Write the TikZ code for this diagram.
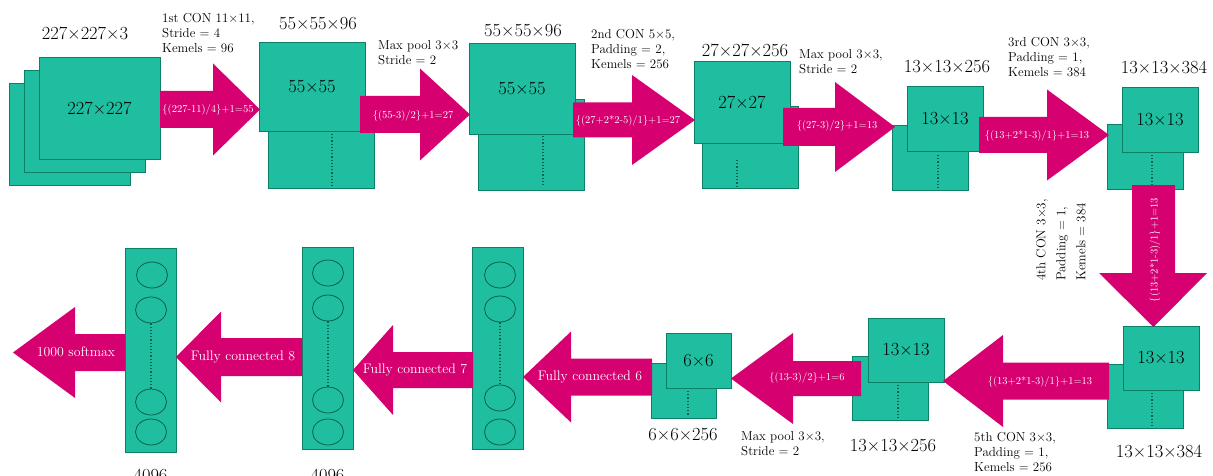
\documentclass[tikz,border=0pt]{standalone}
\usetikzlibrary{shapes.geometric}
\definecolor{tealc}{RGB}{32,190,160}
\definecolor{tealb}{RGB}{12,128,100}
\definecolor{teald}{RGB}{10,95,75}
\definecolor{mag}{RGB}{214,0,112}
\newcommand\harrowshape[6]{% x0, xhead, xtip, centre y, body half, head half
  \fill[mag] (#1,#4-#5) -- (#2,#4-#5) -- (#2,#4-#6) -- (#3,#4) -- (#2,#4+#6) -- (#2,#4+#5) -- (#1,#4+#5) -- cycle;}
\begin{document}
\begin{tikzpicture}[x=1pt,y=-1pt,
  fm/.style={draw=tealb, fill=tealc, line width=0.8pt, inner sep=0pt, font=\fontsize{18.5}{22}\selectfont},
  dimlab/.style={font=\fontsize{18.5}{22}\selectfont, inner sep=0pt},
  note/.style={font=\fontsize{13}{15}\selectfont, align=left, inner sep=0pt, anchor=north west},
  atext/.style={text=white, font=\fontsize{10.5}{12}\selectfont, inner sep=0pt},
  fctext/.style={text=white, font=\fontsize{13.8}{15}\selectfont, inner sep=0pt},
  dotl/.style={draw=teald, dotted, line width=1.2pt},
  neuron/.style={draw=teald, line width=0.8pt, ellipse, minimum width=31pt, minimum height=26pt, inner sep=0pt}
]
\fill[white] (0,0) rectangle (1213,476);
\clip (0,0) rectangle (1213,476);
\useasboundingbox (0,0) rectangle (1213,476);

% ---- feature maps, top row ----
\node[fm, minimum width=121pt, minimum height=102pt] (A3) at (69.5,134) {};
\node[fm, minimum width=121pt, minimum height=102pt] (A2) at (85,121) {};
\node[fm, minimum width=121pt, minimum height=102pt] (A1) at (99.5,108) {227×227};

\node[fm, minimum width=106pt, minimum height=89pt] (B2) at (321,143.5) {};
\node[fm, minimum width=106pt, minimum height=89pt] (B1) at (312,87) {55×55};

\node[fm, minimum width=106pt, minimum height=91pt] (C2) at (531,144.5) {};
\node[fm, minimum width=106pt, minimum height=91pt] (C1) at (522,88.5) {55×55};

\node[fm, minimum width=96pt, minimum height=82pt] (D2) at (750.5,147) {};
\node[fm, minimum width=96pt, minimum height=82pt] (D1) at (742,102.5) {27×27};

\node[fm, minimum width=76pt, minimum height=65pt] (E2) at (930,157.5) {};
\node[fm, minimum width=76pt, minimum height=65pt] (E1) at (945,118.5) {13×13};

\node[fm, minimum width=76pt, minimum height=65pt] (F2) at (1145,156.5) {};
\node[fm, minimum width=76pt, minimum height=65pt] (F1) at (1160,119.5) {13×13};

% ---- feature maps, bottom row ----
\node[fm, minimum width=76pt, minimum height=64pt] (G2) at (1145,396.5) {};
\node[fm, minimum width=76pt, minimum height=64pt] (G1) at (1161,358) {13×13};

\node[fm, minimum width=76pt, minimum height=64pt] (H2) at (890,388) {};
\node[fm, minimum width=76pt, minimum height=64pt] (H1) at (906,350) {13×13};

\node[fm, minimum width=65pt, minimum height=55pt] (I2) at (683.5,390.5) {};
\node[fm, minimum width=65pt, minimum height=55pt] (I1) at (698.5,360.5) {6×6};

% ---- fully connected columns ----
\node[fm, minimum width=51pt, minimum height=204pt] (K1) at (150.5,350) {};
\node[fm, minimum width=51pt, minimum height=202pt] (K2) at (327.5,348) {};
\node[fm, minimum width=51pt, minimum height=202pt] (K3) at (497.5,348) {};

\node[neuron] (K1a) at (152,275) {};
\node[neuron] (K1b) at (151,310) {};
\node[neuron] (K1c) at (151,402) {};
\node[neuron] (K1d) at (151,432) {};
\node[neuron] (K2a) at (328,273) {};
\node[neuron] (K2b) at (328,308) {};
\node[neuron] (K2c) at (328,400) {};
\node[neuron] (K2d) at (328,432) {};
\node[neuron] (K3a) at (500,275) {};
\node[neuron] (K3b) at (500,309) {};
\node[neuron] (K3c) at (500,398) {};
\node[neuron] (K3d) at (500,432) {};

% ---- dotted lines ----
\draw[dotl] (332,134) -- (332,186);
\draw[dotl] (543,136) -- (543,187);
\draw[dotl] (737,160) -- (737,187);
\draw[dotl] (938,155) -- (938,188);
\draw[dotl] (1152,155) -- (1152,186);
\draw[dotl] (1152,393) -- (1152,426);
\draw[dotl] (898,385) -- (898,418);
\draw[dotl] (688,391) -- (688,416);
\draw[dotl] (K1b.south) -- (K1c.north);
\draw[dotl] (K2b.south) -- (K2c.north);
\draw[dotl] (K3b.south) -- (K3c.north);

% ---- block arrows ----
\harrowshape{160}{213}{260}{109.5}{18.5}{46}
\harrowshape{360}{420}{470}{114.5}{18.5}{46}
\harrowshape{573}{632}{695}{120}{17.5}{45}
\harrowshape{783}{835}{895}{127}{19}{45}
\harrowshape{979}{1047}{1109}{135}{18}{45.5}
\fill[mag] (1132,185) -- (1132,273) -- (1099,273) -- (1153.5,327) -- (1207,273) -- (1175,273) -- (1175,185) -- cycle;
\harrowshape{1109}{1003}{943}{381}{18.5}{46}
\harrowshape{861}{793}{731}{378.5}{17.5}{45.5}
\harrowshape{652}{571}{523}{377}{18.5}{45.5}
\harrowshape{473}{393}{353}{370}{18}{45}
\harrowshape{302}{221}{176}{357}{19}{45.5}
\harrowshape{125}{75}{13}{352.5}{18.5}{45.5}

% ---- arrow texts ----
\node[atext] (t1) at (208,110) {\{(227-11)/4\}+1=55};
\node[atext] (t2) at (413,116) {\{(55-3)/2\}+1=27};
\node[atext] (t3) at (628,121) {\{(27+2*2-5)/1\}+1=27};
\node[atext] (t4) at (837,126) {\{(27-3)/2\}+1=13};
\node[atext] (t5) at (1037,136) {\{(13+2*1-3)/1\}+1=13};
\node[atext, rotate=90] (t6) at (1155,250) {\{(13+2*1-3)/1\}+1=13};
\node[atext] (t7) at (1040,382) {\{(13+2*1-3)/1\}+1=13};
\node[atext] (t8) at (807,378) {\{(13-3)/2\}+1=6};
\node[fctext] (t9) at (590,377) {Fully connected 6};
\node[fctext] (t10) at (415,370) {Fully connected 7};
\node[fctext] (t11) at (243,357) {Fully connected 8};
\node[fctext] (t12) at (76,352) {1000 softmax};

% ---- dimension labels ----
\node[dimlab] (d1) at (85,33) {227×227×3};
\node[dimlab] (d2) at (318,24) {55×55×96};
\node[dimlab] (d3) at (523,31) {55×55×96};
\node[dimlab] (d4) at (745,50) {27×27×256};
\node[dimlab] (d5) at (947,67) {13×13×256};
\node[dimlab] (d6) at (1164,67) {13×13×384};
\node[dimlab] (d7) at (1159,451) {13×13×384};
\node[dimlab] (d8) at (893,446) {13×13×256};
\node[dimlab] (d9) at (683,435) {6×6×256};
\node[dimlab, anchor=base] (d10) at (150.5,481) {4096};
\node[dimlab, anchor=base] (d11) at (327.5,481) {4096};

% ---- layer notes ----
\node[note] (n1) at (162,13) {1st CON 11×11,\\Stride = 4\\Kemels = 96};
\node[note] (n2) at (378,40) {Max pool 3×3\\Stride = 2};
\node[note] (n3) at (591,29) {2nd CON 5×5,\\Padding = 2,\\Kemels = 256};
\node[note] (n4) at (799,49) {Max pool 3×3,\\Stride = 2};
\node[note] (n5) at (1008,37) {3rd CON 3×3,\\Padding = 1,\\Kemels = 384};
\node[note, rotate=90, font=\fontsize{13}{20}\selectfont] (n6) at (1036,281) {4th CON 3×3,\\Padding = 1,\\Kemels = 384};
\node[note] (n7) at (974,432) {5th CON 3×3,\\Padding = 1,\\Kemels = 256};
\node[note] (n8) at (741,431) {Max pool 3×3,\\Stride = 2};
\end{tikzpicture}
\end{document}
